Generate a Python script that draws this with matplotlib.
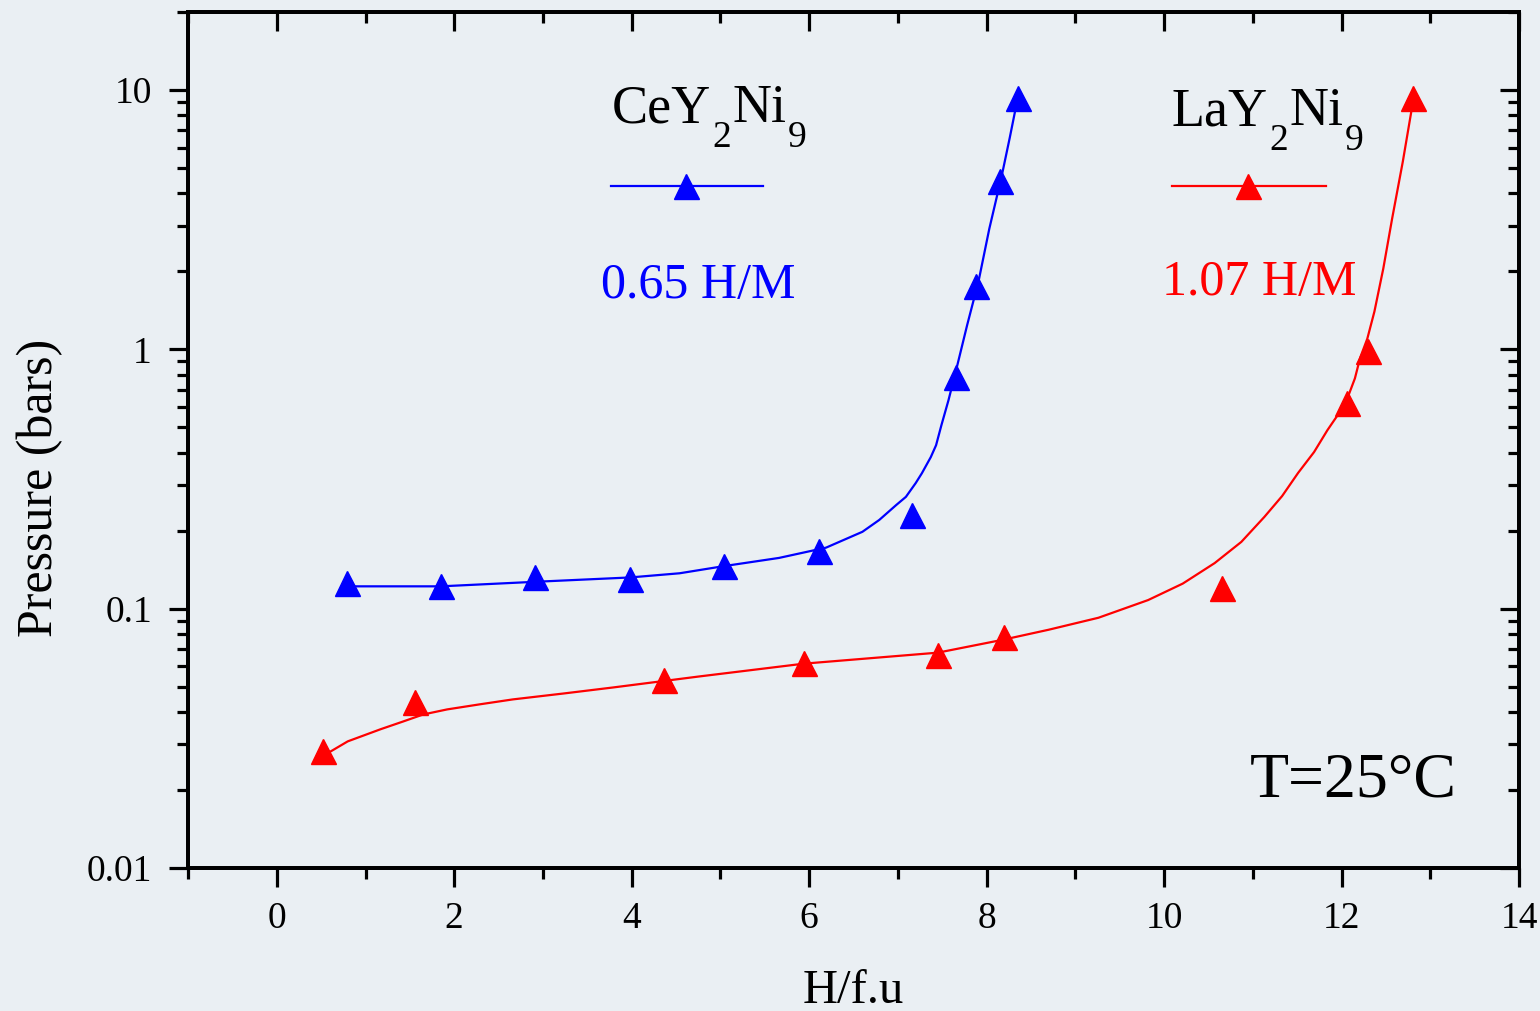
import numpy as np
import matplotlib
matplotlib.use("Agg")
import matplotlib.pyplot as plt
from matplotlib.lines import Line2D
from matplotlib.ticker import LogLocator, FuncFormatter, MultipleLocator

plt.rcParams['font.family'] = ['Liberation Serif', 'DejaVu Serif']

# CeY2Ni9 measured points
ce_x = [0.79, 1.85, 2.91, 3.98, 5.04, 6.11, 7.16, 7.65, 7.88, 8.15, 8.35]
ce_p = [0.126, 0.122, 0.133, 0.130, 0.146, 0.167, 0.230, 0.78, 1.75, 4.47, 9.3]
# CeY2Ni9 fitted curve
ce_fit_x = [0.79, 1.85, 2.91, 3.98, 4.54, 5.04, 5.66, 6.19, 6.60, 6.79, 6.98, 7.09, 7.20,
            7.27, 7.37, 7.43, 7.49, 7.57, 7.65, 7.78, 7.91, 8.03, 8.17, 8.26, 8.35]
ce_fit_p = [0.122, 0.122, 0.127, 0.132, 0.137, 0.146, 0.157, 0.172, 0.198, 0.220, 0.251, 0.270, 0.305,
            0.333, 0.384, 0.427, 0.510, 0.637, 0.816, 1.24, 1.84, 2.92, 4.67, 6.54, 9.31]

# LaY2Ni9 measured points
la_x = [0.52, 1.56, 4.36, 5.94, 7.45, 8.19, 10.65, 12.06, 12.30, 12.81]
la_p = [0.0282, 0.0435, 0.0533, 0.062, 0.0665, 0.078, 0.120, 0.62, 0.99, 9.3]
# LaY2Ni9 fitted curve
la_fit_x = [0.52, 0.61, 0.80, 1.17, 1.42, 1.65, 1.92, 2.29, 2.66, 3.23, 3.79, 4.76, 5.94, 7.45,
            8.19, 8.70, 9.26, 9.82, 10.21, 10.57, 10.87, 11.13, 11.33, 11.51, 11.69, 11.84,
            11.97, 12.07, 12.15, 12.21, 12.29, 12.37, 12.47, 12.57, 12.69, 12.80]
la_fit_p = [0.0272, 0.0282, 0.0308, 0.0343, 0.0367, 0.0391, 0.0409, 0.0428, 0.0447, 0.0471, 0.0497,
            0.0548, 0.0614, 0.0677, 0.076, 0.083, 0.0923, 0.108, 0.125, 0.150, 0.181, 0.226,
            0.272, 0.334, 0.402, 0.488, 0.567, 0.654, 0.773, 0.93, 1.10, 1.40, 2.05, 3.20,
            5.30, 8.83]

y_ticks = [0.01, 0.1, 1, 10]
x_ticks = [0, 2, 4, 6, 8, 10, 12, 14]

bg = '#eaeff3'
fig = plt.figure(figsize=(15.4, 10.11), dpi=100, facecolor=bg)
ax = fig.add_axes([0.1221, 0.1414, 0.8643, 0.8467])
ax.set_facecolor(bg)

ax.plot(ce_fit_x, ce_fit_p, color='#0000ff', lw=1.6)
ax.plot(ce_x, ce_p, ls='none', marker='^', ms=18, color='#0000ff')
ax.plot(la_fit_x, la_fit_p, color='#ff0000', lw=1.6)
ax.plot(la_x, la_p, ls='none', marker='^', ms=18, color='#ff0000')

ax.set_yscale('log')
ax.set_xlim(-1, 14)
ax.set_ylim(0.01, 20)
ax.set_xticks(x_ticks)
ax.xaxis.set_minor_locator(MultipleLocator(1))
ax.set_yticks(y_ticks)
ax.yaxis.set_major_formatter(FuncFormatter(lambda v, p: '%g' % v))
ax.yaxis.set_minor_locator(LogLocator(base=10, subs=np.arange(2, 10)))
ax.yaxis.set_minor_formatter(FuncFormatter(lambda v, p: ''))

for s in ax.spines.values():
    s.set_linewidth(2.6)
ax.tick_params(which='major', direction='out', length=14, width=2.3, labelsize=27, pad=10,
               top=False, right=False)
ax.tick_params(which='minor', direction='out', length=8, width=2.3, top=False, right=False)
ax.tick_params(axis='y', which='major', pad=12)

# inward ticks on top and right
ax2 = ax.twinx()
ax2.set_yscale('log')
ax2.set_ylim(ax.get_ylim())
ax2.set_yticks(y_ticks)
ax2.yaxis.set_minor_locator(LogLocator(base=10, subs=np.arange(2, 10)))
ax2.tick_params(which='major', direction='in', length=14, width=2.3, labelright=False)
ax2.tick_params(which='minor', direction='in', length=8, width=2.3, labelright=False)
ax3 = ax.twiny()
ax3.set_xlim(ax.get_xlim())
ax3.set_xticks(x_ticks)
ax3.xaxis.set_minor_locator(MultipleLocator(1))
ax3.tick_params(which='major', direction='in', length=14, width=2.3, labeltop=False)
ax3.tick_params(which='minor', direction='in', length=8, width=2.3, labeltop=False)
for a in (ax2, ax3):
    for s in a.spines.values():
        s.set_linewidth(2.6)

ax.set_xlabel('H/f.u', fontsize=35, labelpad=24)
ax.set_ylabel('Pressure (bars)', fontsize=36)
ax.yaxis.set_label_coords(-0.094, 0.444)


def formula(x, y, parts, size=39, sub_size=27, drop=9):
    # parts: list of (text, is_subscript); subscripts hang below the baseline
    base = ax.text(x, y, parts[0][0], transform=ax.transAxes, fontsize=size)
    prev = base
    for txt, sub in parts[1:]:
        if sub:
            prev = ax.annotate(txt, xy=(1, 0), xycoords=(prev, base), xytext=(1, -drop),
                               textcoords='offset points', fontsize=sub_size, va='baseline')
        else:
            prev = ax.annotate(txt, xy=(1, 0), xycoords=(prev, base), xytext=(1, 0),
                               textcoords='offset points', fontsize=size, va='bottom')


formula(0.318, 0.8715, [('CeY', False), ('2', True), ('Ni', False), ('9', True)])
formula(0.739, 0.868, [('LaY', False), ('2', True), ('Ni', False), ('9', True)])

ax.add_line(Line2D([0.318, 0.432], [0.797, 0.797], transform=ax.transAxes, color='#0000ff', lw=1.6))
ax.add_line(Line2D([0.374], [0.797], transform=ax.transAxes, color='#0000ff', marker='^', ms=18))
ax.add_line(Line2D([0.739, 0.855], [0.797, 0.797], transform=ax.transAxes, color='#ff0000', lw=1.6))
ax.add_line(Line2D([0.796], [0.797], transform=ax.transAxes, color='#ff0000', marker='^', ms=18))
ax.text(0.310, 0.666, '0.65 H/M', transform=ax.transAxes, fontsize=36, color='#0000ff')
ax.text(0.732, 0.670, '1.07 H/M', transform=ax.transAxes, fontsize=36, color='#ff0000')
ax.text(0.798, 0.083, 'T=25°C', transform=ax.transAxes, fontsize=46)

fig.savefig('out.png', dpi=100, facecolor=bg)
